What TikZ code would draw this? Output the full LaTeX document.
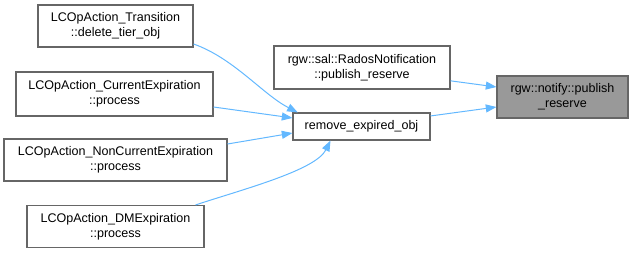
\documentclass[tikz,border=0pt]{standalone}
\usepackage{fontspec}
\setmainfont{Liberation Sans}
\usetikzlibrary{arrows.meta}
\definecolor{edgeblue}{HTML}{63B8FF}
\definecolor{boxline}{HTML}{666666}
\definecolor{hilite}{HTML}{999999}
\tikzset{
  fn/.style={draw=boxline, line width=0.8pt, fill=white, align=center, inner sep=0pt,
    font=\fontsize{9.4pt}{11pt}\selectfont, text=black},
  twoline/.style={minimum height=31.5pt},
  focus/.style={fill=hilite},
  call/.style={draw=edgeblue, line width=0.75pt, -{Triangle[length=8pt,width=6pt]}},
}
\begin{document}
\begin{tikzpicture}[x=0.75pt,y=-0.75pt]
  \useasboundingbox (0,0) rectangle (633,253);
  % callers on the left
  \node[fn,twoline,minimum width=116.25pt] (trans) at (115.5,26) {LCOpAction\_Transition\\::delete\_tier\_obj};
  \node[fn,minimum height=33pt,minimum width=147.75pt] (cur) at (114.5,94) {LCOpAction\_CurrentExpiration\\::process};
  \node[fn,twoline,minimum width=167.25pt] (noncur) at (115.5,160) {LCOpAction\_NonCurrentExpiration\\::process};
  \node[fn,twoline,minimum width=132.75pt] (dm) at (115.5,226.5) {LCOpAction\_DMExpiration\\::process};
  % middle column
  \node[fn,minimum height=20.25pt,minimum width=102.75pt] (rm) at (361.5,126.5) {remove\_expired\_obj};
  \node[fn,minimum height=32.25pt,minimum width=132pt] (rados) at (362,67.5) {rgw::sal::RadosNotification\\::publish\_reserve};
  % the documented function
  \node[fn,twoline,focus,minimum width=98.25pt] (pub) at (562.5,97) {rgw::notify::publish\\\_reserve};
  % call edges
  \draw[call] ([yshift=-13.5pt]trans.east) .. controls +(40,14) and +(-35,-18) .. ([xshift=4pt]rm.north west);
  \draw[call] ([yshift=-9.75pt]cur.east) -- ([yshift=6.4pt]rm.west);
  \draw[call] ([yshift=12pt]noncur.east) -- ([yshift=-4.9pt]rm.west);
  \draw[call] ([xshift=-6.75pt]dm.north east) .. controls +(45,-15) and +(-15,30) .. ([xshift=-75pt]rm.south east);
  \draw[call] ([yshift=7.9pt]rm.east) -- ([yshift=-7.5pt]pub.west);
  \draw[call] ([yshift=-10pt]rados.east) -- ([yshift=7.5pt]pub.west);
\end{tikzpicture}
\end{document}
